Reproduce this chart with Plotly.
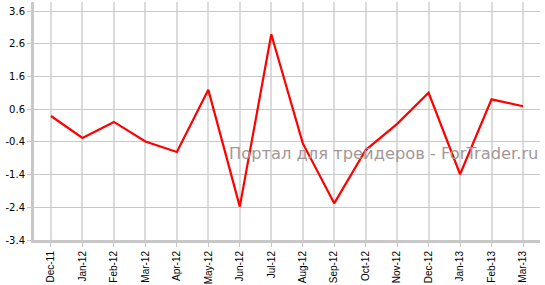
import plotly.graph_objects as go

months = ["Dec-11", "Jan-12", "Feb-12", "Mar-12", "Apr-12", "May-12", "Jun-12", "Jul-12",
          "Aug-12", "Sep-12", "Oct-12", "Nov-12", "Dec-12", "Jan-13", "Feb-13", "Mar-13"]
values = [0.39, -0.28, 0.21, -0.39, -0.71, 1.19, -2.38, 2.89,
          -0.44, -2.28, -0.65, 0.15, 1.10, -1.39, 0.90, 0.69]
ytick_vals = [-3.4, -2.4, -1.4, -0.4, 0.6, 1.6, 2.6, 3.6]
ytick_text = ["-3.4", "-2.4", "-1.4", "-0.4", "0.6", "1.6", "2.6", "3.6"]
watermark = "Портал для трейдеров - ForTrader.ru"

fig = go.Figure()
fig.add_trace(go.Scatter(x=months, y=values, mode="lines",
                         line=dict(color="#ff0000", width=2.2), hoverinfo="skip"))

fig.update_layout(
    width=545, height=285,
    margin=dict(l=34, r=5, t=2, b=45),
    paper_bgcolor="white", plot_bgcolor="white",
    showlegend=False,
    font=dict(family="DejaVu Sans", size=9, color="#000000"),
    xaxis=dict(type="category", range=[-0.54, 15.54], tickangle=-90,
               showgrid=True, gridcolor="#dcdcdc", gridwidth=2,
               showline=True, linecolor="#c8c8c8", linewidth=3,
               ticks="outside", ticklen=4, tickcolor="#c8c8c8", tickwidth=1,
               tickfont=dict(family="Liberation Sans", size=10), fixedrange=True),
    yaxis=dict(range=[-3.4, 3.875], tickvals=ytick_vals, ticktext=ytick_text,
               showgrid=True, gridcolor="#c8c8c8", gridwidth=1, zeroline=False,
               showline=True, linecolor="#c8c8c8", linewidth=3,
               ticks="outside", ticklen=4, tickcolor="#c8c8c8", tickwidth=1,
               tickfont=dict(family="DejaVu Sans", size=10), fixedrange=True),
    annotations=[dict(text=watermark, xref="paper", yref="paper",
                      x=1.0, y=(240 - 153) / 238, xanchor="right", yanchor="middle",
                      showarrow=False,
                      font=dict(family="DejaVu Sans", size=16.3, color="#a39797"))],
)

fig.write_html("out.html", config={"displayModeBar": False})
